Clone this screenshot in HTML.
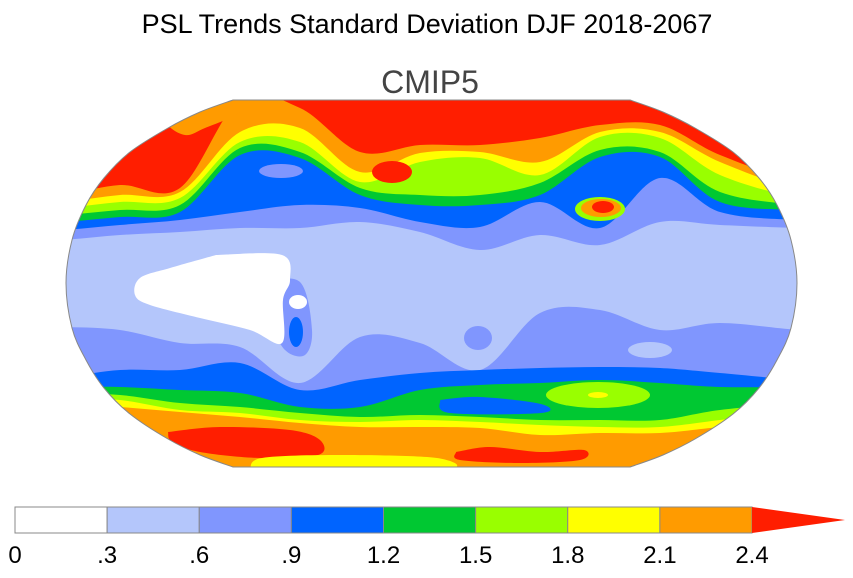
<!DOCTYPE html>
<html><head><meta charset="utf-8"><style>
body{margin:0;background:#fff;width:853px;height:573px;overflow:hidden;font-family:"Liberation Sans",sans-serif}
</style></head><body>
<svg id="chart" width="853" height="573" xmlns="http://www.w3.org/2000/svg">
<text x="427" y="33" text-anchor="middle" font-size="27" font-family="Liberation Sans, sans-serif">PSL Trends Standard Deviation DJF 2018-2067</text>
<text x="430" y="93" text-anchor="middle" font-size="32" fill="#444" font-family="Liberation Sans, sans-serif">CMIP5</text>
<defs><clipPath id="mapclip"><path id="clipoutline" d=""/></clipPath></defs>
<g id="map" clip-path="url(#mapclip)"></g>
<path id="outline" d="" fill="none" stroke="#888" stroke-width="1"/>
<g id="colorbar"></g>
</svg>
<script>
const levels=["0",".3",".6",".9","1.2","1.5","1.8","2.1","2.4"];
const colors=["#ffffff","#b4c6fb","#8096fe","#0064ff","#00c832","#99ff00","#ffff00","#ff9b00","#ff1e00"];
const xs=[60,120,180,240,300,360,420,480,540,600,660,720,800];
const nMed=[240,235,232,228,228,222,232,250,235,245,222,225,228];
const nBlue=[230,225,220,212,205,208,222,227,202,228,178,212,220];
const nGreen=[222,217,212,155,158,195,205,205,195,157,157,202,210];
const nLime=[215,210,205,148,152,188,195,195,183,150,152,192,205];
const nYellow=[208,202,198,142,142,182,162,158,175,137,138,175,198];
const nOrange=[202,195,192,132,128,172,153,152,162,132,132,162,190];
const nRed=[195,185,188,100,108,152,145,145,138,125,125,155,182];
const sMed=[327,330,343,347,383,337,343,370,313,310,330,323,330];
const sBlue=[377,370,370,363,390,380,373,370,368,367,368,373,380];
const sGreen=[387,387,390,393,407,407,390,385,383,380,383,387,387];
const sLime=[393,395,403,407,413,417,415,417,420,420,420,410,403];
const sYellow=[397,400,410,413,420,422,420,422,425,427,427,420,410];
const sOrange=[403,407,412,417,423,427,427,428,435,433,433,427,420];
(function(){
const NS="http://www.w3.org/2000/svg";
function smooth(pts){
  let d='M'+pts[0][0]+','+pts[0][1];
  for(let i=0;i<pts.length-1;i++){
    const p0=pts[Math.max(0,i-1)],p1=pts[i],p2=pts[i+1],p3=pts[Math.min(pts.length-1,i+2)];
    const c1=[p1[0]+(p2[0]-p0[0])/6,p1[1]+(p2[1]-p0[1])/6];
    const c2=[p2[0]-(p3[0]-p1[0])/6,p2[1]-(p3[1]-p1[1])/6];
    d+=` C${c1[0].toFixed(1)},${c1[1].toFixed(1)} ${c2[0].toFixed(1)},${c2[1].toFixed(1)} ${p2[0]},${p2[1]}`;
  }
  return d;
}
const L=[[233,100],[200,112],[168,128],[130,152],[104,178],[86,205],[72,240],[66,283],[72,328],[86,360],[104,388],[130,414],[168,439],[200,455],[233,467]];
const R=L.slice().reverse().map(p=>[863-p[0],p[1]]);
const od='M233,100 L630,100 '+smooth(R.slice().reverse()).replace(/^M[^ ]+/,'')+' L233,467 '+smooth(L.slice().reverse()).replace(/^M[^ ]+/,'')+' Z';
document.getElementById('clipoutline').setAttribute('d',od);
document.getElementById('outline').setAttribute('d',od);
const map=document.getElementById('map');
function band(arr,yEdge,fill,name){
  const pts=[[0,arr[0]]].concat(xs.map((x,j)=>[x,arr[j]])).concat([[853,arr[arr.length-1]]]);
  const p=document.createElementNS(NS,'path');
  p.setAttribute('d',smooth(pts)+` L853,${yEdge} L0,${yEdge} Z`);
  p.setAttribute('fill',fill);
  
  
  map.appendChild(p);
}
function poly(pts,fill,name){
  const p=document.createElementNS(NS,'path');
  p.setAttribute('d',smooth(pts.concat([pts[0]]))+' Z');
  p.setAttribute('fill',fill);
  
  
  map.appendChild(p);
}
const r0=document.createElementNS(NS,'rect');
r0.setAttribute('x',0);r0.setAttribute('y',0);r0.setAttribute('width',853);r0.setAttribute('height',573);
r0.setAttribute('fill',colors[1]);


map.appendChild(r0);
[nMed,nBlue,nGreen,nLime,nYellow,nOrange,nRed].forEach((arr,i)=>band(arr,0,colors[i+2],'north-band-'+(i+2)));
[sMed,sBlue,sGreen,sLime,sYellow,sOrange].forEach((arr,i)=>band(arr,600,colors[i+2],'south-band-'+(i+2)));
function ell(cx,cy,rx,ry,fill,name){
  const e=document.createElementNS(NS,'ellipse');
  e.setAttribute('cx',cx);e.setAttribute('cy',cy);e.setAttribute('rx',rx);e.setAttribute('ry',ry);e.setAttribute('fill',fill);
  
  
  map.appendChild(e);
}
poly([[150,92],[250,92],[240,112],[205,128],[185,135],[165,122]],colors[7],'pacific-orange-cap');
ell(392,172,20,11,colors[8],'atlantic-red-blob');
ell(281,171,22,7,colors[2],'canada-medium-blob');
ell(600,209,25,12,colors[5],'tibet-lime-blob');
ell(601,208,20,9,colors[7],'tibet-orange-blob');
ell(603,207,11,6,colors[8],'tibet-red-blob');
ell(598,395,52,13,colors[5],'indian-ocean-lime-blob');
ell(598,395,10,3,colors[6],'indian-ocean-yellow-blob');
poly([[440,400],[480,397],[541,404],[541,413],[450,413]],colors[3],'south-atlantic-blue-tongue');
poly([[168,432],[220,427],[290,430],[320,440],[318,455],[260,458],[200,452],[172,442]],colors[8],'sw-red-region');
poly([[456,452],[490,447],[540,452],[584,450],[580,460],[520,463],[460,460]],colors[8],'se-red-region');
poly([[250,470],[262,458],[340,455],[437,458],[440,470]],colors[6],'south-yellow-patch');
poly([[263,282],[300,282],[312,330],[305,355],[285,350],[270,320]],colors[2],'andes-medium-region');
poly([[216,255],[282,255],[290,280],[283,300],[282,343],[250,330],[200,318],[150,305],[135,295],[140,278],[170,268]],colors[0],'pacific-white-region');
ell(298,302,9,7,colors[0],'peru-white-blob');
ell(296,332,7,15,colors[3],'andes-blue-blob');
ell(650,350,22,8,colors[1],'australia-light-blob');
ell(478,338,14,12,colors[2],'south-africa-medium-blob');
const cb=document.getElementById('colorbar');
const bx0=15,bx1=752,by0=507,by1=533,bw=(bx1-bx0)/8;
for(let i=0;i<8;i++){
  const r=document.createElementNS(NS,'rect');
  r.setAttribute('x',bx0+i*bw);r.setAttribute('y',by0);r.setAttribute('width',bw);r.setAttribute('height',by1-by0);
  r.setAttribute('fill',colors[i]);r.setAttribute('stroke','#888');r.setAttribute('stroke-width','1');
  
  
  cb.appendChild(r);
}
const tri=document.createElementNS(NS,'path');
tri.setAttribute('d',`M${bx1},${by0} L845,${(by0+by1)/2} L${bx1},${by1} Z`);
tri.setAttribute('fill',colors[8]);


cb.appendChild(tri);
levels.forEach((l,i)=>{
  const t=document.createElementNS(NS,'text');
  t.setAttribute('x',bx0+i*bw);t.setAttribute('y',563);t.setAttribute('text-anchor','middle');
  t.setAttribute('font-size','24');t.setAttribute('font-family','Liberation Sans, sans-serif');
  t.textContent=l;
  
  
  cb.appendChild(t);
});
})();
</script>
</body></html>
